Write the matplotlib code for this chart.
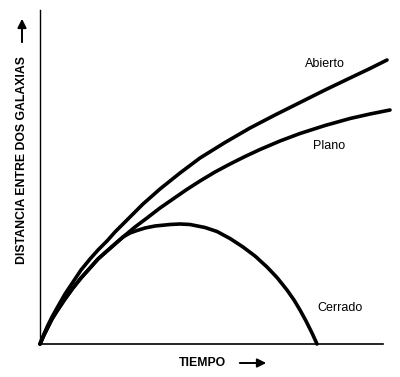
import matplotlib
matplotlib.use("Agg")
import matplotlib.pyplot as plt

plt.rcParams['font.family'] = ['Liberation Sans', 'DejaVu Sans']

# Values (arbitrary units: time and distance)
abierto_t = [0, 4, 8, 12, 17, 25, 33, 41, 50, 58, 67, 75, 83, 93, 103, 120, 140, 160, 185,
             210, 235, 260, 285, 310, 330, 347]
abierto_d = [0, 10, 19, 27, 36, 50, 62, 74, 85, 94, 103, 112, 120, 130, 140, 155, 171, 186, 201.5,
             216, 229, 241.5, 254, 266, 275.5, 284]

plano_t = [0, 4, 8, 12, 17, 25, 33, 41, 50, 58, 67, 75, 83, 95, 107, 120, 133, 146, 160, 175,
           190, 205, 220, 240, 260, 285, 310, 330, 350]
plano_d = [0, 9, 17, 25, 33, 45, 56, 66, 76, 85, 93, 100, 107, 117, 126, 136, 145, 154, 163, 172,
           180, 187.5, 194.5, 203, 210.5, 218.5, 225.5, 230, 234]

cerrado_t = [0, 4, 8, 12, 17, 25, 33, 41, 50, 58, 67, 75, 83, 90, 97, 105, 115, 130, 140, 150,
             165, 177, 190, 203, 215, 227, 237, 247, 254, 260, 266, 272, 277]
cerrado_d = [0, 9, 17, 25, 33, 45, 56, 66, 76, 85, 93, 100, 107, 111, 113.5, 116, 118, 119.5, 120,
             119.5, 116.5, 112.5, 105.5, 97, 88, 77, 66.5, 54, 44, 34, 23, 11, 0]

labels = ["Abierto", "Plano", "Cerrado"]
label_pos_t = [285, 289, 300]
label_pos_d = [280, 198, 36]

fig = plt.figure(figsize=(4.0, 3.77), dpi=100)
ax = fig.add_axes([40/400, 33/377, 360/400, 344/377])
ax.set_xlim(0, 360)
ax.set_ylim(0, 344)

for t, d in [(abierto_t, abierto_d), (plano_t, plano_d), (cerrado_t, cerrado_d)]:
    ax.plot(t, d, color='black', lw=2.6, solid_capstyle='round', solid_joinstyle='round', clip_on=False)

for lab, lt, ld in zip(labels, label_pos_t, label_pos_d):
    ax.text(lt, ld, lab, fontsize=9, ha='center', va='center', color='black')

for s in ['top', 'right']:
    ax.spines[s].set_visible(False)
ax.spines['left'].set_bounds(0, 334)
ax.spines['bottom'].set_bounds(0, 343)
ax.spines['left'].set_linewidth(1.0)
ax.spines['bottom'].set_linewidth(1.2)
ax.set_xticks([])
ax.set_yticks([])
ax.patch.set_alpha(0)

# axis titles with arrows
fig.text(202/400, 1 - 363/377, "TIEMPO", fontsize=8.8, fontweight='bold', ha='center', va='center')
ax.annotate('', xy=(269, 14), xycoords='figure pixels', xytext=(237, 14), textcoords='figure pixels',
            arrowprops=dict(arrowstyle='-|>', color='black', lw=1.4, mutation_scale=13))
fig.text(22/400, 1 - 160/377, "DISTANCIA ENTRE DOS GALAXIAS", fontsize=8.8, fontweight='bold',
         rotation=90, ha='center', va='center')
ax.annotate('', xy=(22, 361), xycoords='figure pixels', xytext=(22, 332), textcoords='figure pixels',
            arrowprops=dict(arrowstyle='-|>', color='black', lw=1.4, mutation_scale=13))

fig.savefig("out.png", dpi=100)
